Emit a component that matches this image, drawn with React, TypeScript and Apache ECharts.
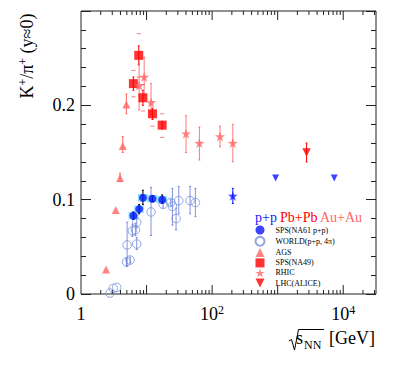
import React, { useEffect, useRef } from 'react';
import * as echarts from 'echarts';

// ---- data ----
const NA61_X = [6.3, 7.7, 8.8, 12.3, 17.3];
const NA61_Y = [0.083, 0.090, 0.102, 0.101, 0.100];
const NA61_LO = [0.079, 0.085, 0.095, 0.098, 0.096];
const NA61_HI = [0.087, 0.095, 0.110, 0.104, 0.105];

const WORLD_X = [2.77, 3.11, 3.51, 4.95, 5.6, 5.05, 6.08, 6.76, 7.08, 7.08, 11.7, 17.9, 23.4, 24.8, 28.2, 31.0, 46.1, 55.6];
const WORLD_Y = [0.001, 0.006, 0.007, 0.034, 0.036, 0.052, 0.067, 0.068, 0.076, 0.053, 0.087, 0.095, 0.097, 0.093, 0.080, 0.099, 0.099, 0.097];
const WORLD_LO = [0.001, 0.006, 0.007, 0.030, 0.033, 0.029, 0.061, 0.062, 0.070, 0.047, 0.062, 0.092, 0.094, 0.073, 0.068, 0.085, 0.085, 0.082];
const WORLD_HI = [0.001, 0.006, 0.007, 0.038, 0.039, 0.076, 0.074, 0.075, 0.083, 0.060, 0.113, 0.098, 0.100, 0.112, 0.091, 0.114, 0.114, 0.112];

const AGS_X = [2.41, 3.39, 3.94, 4.33, 4.92];
const AGS_Y = [0.026, 0.089, 0.123, 0.157, 0.201];
const AGS_LO = [0.026, 0.089, 0.119, 0.150, 0.191];
const AGS_HI = [0.026, 0.089, 0.128, 0.167, 0.212];

const NA49_X = [6.3, 7.6, 8.8, 12.3, 17.3];
const NA49_Y = [0.223, 0.253, 0.208, 0.191, 0.179];
const NA49_LO = [0.216, 0.243, 0.200, 0.185, 0.175];
const NA49_HI = [0.230, 0.263, 0.216, 0.197, 0.183];
const NA49_SYS_LO = [0.209, 0.230, 0.194, 0.178, 0.166];
const NA49_SYS_HI = [0.237, 0.276, 0.222, 0.204, 0.191];

const RHIC_X = [7.7, 9.2, 11.7, 40, 64, 132, 207];
const RHIC_Y = [0.221, 0.230, 0.203, 0.170, 0.160, 0.167, 0.160];
const RHIC_LO = [0.195, 0.211, 0.191, 0.150, 0.142, 0.156, 0.140];
const RHIC_HI = [0.250, 0.251, 0.223, 0.189, 0.177, 0.178, 0.180];

const LHC_X = [2760];
const LHC_Y = [0.150];
const LHC_LO = [0.140];
const LHC_HI = [0.160];

const PP200_X = [207];
const PP200_Y = [0.104];
const PP200_LO = [0.096];
const PP200_HI = [0.112];

const PPLHC_X = [930, 7300];
const PPLHC_Y = [0.123, 0.123];

const X_MAJOR_TICKS = [10, 100, 1000, 10000];
const X_MINOR_TICKS = [2, 3, 4, 5, 6, 7, 8, 9, 20, 30, 40, 50, 60, 70, 80, 90, 200, 300, 400, 500, 600, 700, 800, 900,
  2000, 3000, 4000, 5000, 6000, 7000, 8000, 9000, 20000, 30000];

const LEGEND_NAMES = ['SPS(NA61 p+p)', 'WORLD(p+p, 4\u03c0)', 'AGS', 'SPS(NA49)', 'RHIC', 'LHC(ALICE)'];

// ---- styles ----
const FONT = 'Liberation Serif';
const BLUE = '#0a14ff';
const LBLUE = '#7290dc';
const RED = '#ff0000';
const LRED = '#ff6666';
const FRAME = '#222222';
const STAR = 'path://M50,0 L61.8,35.1 L98.9,35.4 L69.1,57.5 L80.4,92.9 L50,71.4 L19.6,92.9 L30.9,57.5 L1.1,35.4 L38.2,35.1 Z';
const DOWN_TRI = 'path://M0,0 L10,0 L5,10 Z';
const LEGEND_ICONS = ['circle', 'circle', 'triangle', 'rect', STAR, DOWN_TRI];

const pts = (xs: number[], ys: number[]) => xs.map((x, i) => [x, ys[i]]);
const bars = (xs: number[], lo: number[], hi: number[]) => xs.map((x, i) => [x, lo[i], hi[i]]);

function errSeries(data: number[][], color: string, cap: number, width = 1) {
  return {
    type: 'custom',
    silent: true,
    z: 2,
    data,
    encode: { x: 0, y: [1, 2] },
    renderItem: (_p: any, api: any) => {
      const x = api.value(0);
      const a = api.coord([x, api.value(1)]);
      const b = api.coord([x, api.value(2)]);
      if (Math.abs(a[1] - b[1]) < 0.5) return { type: 'group', children: [] };
      const st = { stroke: color, lineWidth: width };
      return {
        type: 'group',
        children: [
          { type: 'line', shape: { x1: a[0], y1: a[1], x2: b[0], y2: b[1] }, style: st },
          { type: 'line', shape: { x1: a[0] - cap, y1: a[1], x2: a[0] + cap, y2: a[1] }, style: st },
          { type: 'line', shape: { x1: b[0] - cap, y1: b[1], x2: b[0] + cap, y2: b[1] }, style: st },
        ],
      };
    },
  };
}

function sysMarks(data: number[][], color: string) {
  return {
    type: 'custom',
    silent: true,
    z: 2,
    data,
    encode: { x: 0, y: [1, 2] },
    renderItem: (_p: any, api: any) => {
      const x = api.value(0);
      const a = api.coord([x, api.value(1)]);
      const b = api.coord([x, api.value(2)]);
      const st = { stroke: color, lineWidth: 1 };
      return {
        type: 'group',
        children: [
          { type: 'line', shape: { x1: a[0] - 2, y1: a[1], x2: a[0] + 2, y2: a[1] }, style: st },
          { type: 'line', shape: { x1: b[0] - 2, y1: b[1], x2: b[0] + 2, y2: b[1] }, style: st },
        ],
      };
    },
  };
}

function sysBoxes(data: number[][], color: string) {
  return {
    type: 'custom',
    silent: true,
    z: 1,
    data,
    encode: { x: 0, y: [1, 2] },
    renderItem: (_p: any, api: any) => {
      const x = api.value(0);
      const y = api.value(1);
      const a = api.coord([x, y - 0.004]);
      const b = api.coord([x, y + 0.004]);
      return { type: 'rect', shape: { x: a[0] - 5, y: b[1], width: 10, height: a[1] - b[1] }, style: { fill: color } };
    },
  };
}

function tickSeries() {
  const data = [...X_MAJOR_TICKS.map((v) => [v, 0, 9]), ...X_MINOR_TICKS.map((v) => [v, 0, 4])];
  return {
    type: 'custom',
    silent: true,
    z: 5,
    data,
    encode: { x: 0, y: 1 },
    renderItem: (_p: any, api: any) => {
      const v = api.value(0);
      const len = api.value(2);
      const b = api.coord([v, 0]);
      const t = api.coord([v, 0.3]);
      const st = { stroke: FRAME, lineWidth: 1 };
      return {
        type: 'group',
        children: [
          { type: 'line', shape: { x1: b[0], y1: b[1], x2: b[0], y2: b[1] - len }, style: st },
          { type: 'line', shape: { x1: t[0], y1: t[1], x2: t[0], y2: t[1] + len }, style: st },
        ],
      };
    },
  };
}

const yAxisBase = (pos: string, labels: boolean) => ({
  type: 'value',
  position: pos,
  min: 0,
  max: 0.3,
  interval: 0.1,
  axisLine: { show: false },
  splitLine: { show: false },
  minorSplitLine: { show: false },
  axisTick: { show: true, inside: true, length: 10, lineStyle: { color: FRAME, width: 1 } },
  minorTick: { show: true, splitNumber: 5, length: 5, lineStyle: { color: FRAME, width: 1 } },
  axisLabel: {
    show: labels,
    fontFamily: FONT,
    fontSize: 18,
    color: '#000',
    margin: 6,
    formatter: (v: number) => (v > 0.25 ? '' : String(Math.round(v * 10) / 10)),
  },
});

const option: any = {
  animation: false,
  backgroundColor: '#ffffff',
  grid: {
    left: 81, right: 31, top: 11, bottom: 74,
    show: true, borderColor: FRAME, borderWidth: 1, backgroundColor: 'transparent',
    containLabel: false, outerBoundsMode: 'none',
  },
  xAxis: {
    type: 'log',
    logBase: 10,
    min: 1,
    max: 31623,
    position: 'bottom',
    axisLine: { show: false },
    axisTick: { show: false },
    splitLine: { show: false },
    minorTick: { show: false },
    axisLabel: {
      fontFamily: FONT,
      fontSize: 18,
      color: '#000',
      margin: 10,
      lineHeight: 20,
      formatter: (v: number) => {
        const l = Math.log10(v);
        const e = Math.round(l);
        if (Math.abs(l - e) > 1e-6) return '';
        if (e === 0) return '1';
        if (e % 2 !== 0) return '';
        return '10{sup|' + e + '}';
      },
      rich: { sup: { fontFamily: FONT, fontSize: 12, verticalAlign: 'top', lineHeight: 8, color: '#000' } },
    },
  },
  yAxis: [yAxisBase('left', true), yAxisBase('right', false)],
  legend: {
    orient: 'vertical',
    left: 254.5,
    top: 225.5,
    itemWidth: 9,
    itemHeight: 9,
    itemGap: 1.3,
    padding: 0,
    data: LEGEND_NAMES.map((n, i) => ({ name: n, icon: LEGEND_ICONS[i] })),
    textStyle: { fontFamily: FONT, fontSize: 8, color: '#000', lineHeight: 8, padding: [0, 0, 0, 6] },
    selectedMode: false,
  },
  graphic: [
    {
      type: 'text',
      x: 27,
      y: 56,
      rotation: Math.PI / 2,
      style: {
        text: '{a|K}{s|+}{a|/\u03c0}{s|+}{a| (y\u22480)}',
        align: 'center',
        verticalAlign: 'middle',
        rich: {
          a: { fontFamily: FONT, fontSize: 18, lineHeight: 20, fill: '#000' },
          s: { fontFamily: FONT, fontSize: 12, lineHeight: 8, verticalAlign: 'top', fill: '#000' },
        },
      },
    },
    { type: 'polyline', shape: { points: [[289, 341], [291.5, 339.5], [294.5, 350], [298.5, 329.5], [324, 329.5]] }, style: { stroke: '#000', lineWidth: 1, fill: null } },
    { type: 'text', x: 296, y: 338, style: { text: 's', fontFamily: FONT, fontSize: 18, fill: '#000', align: 'left', verticalAlign: 'middle' } },
    { type: 'text', x: 304, y: 345, style: { text: 'NN', fontFamily: FONT, fontSize: 12, fill: '#000', align: 'left', verticalAlign: 'middle' } },
    { type: 'text', x: 329, y: 338, style: { text: '[GeV]', fontFamily: FONT, fontSize: 18, fill: '#000', align: 'left', verticalAlign: 'middle' } },
    { type: 'text', x: 255, y: 217, style: { text: 'p+p', fontFamily: FONT, fontSize: 14, fill: '#1a1aff', align: 'left', verticalAlign: 'middle' } },
    { type: 'text', x: 280, y: 217, style: { text: 'Pb+Pb', fontFamily: FONT, fontSize: 14, fill: RED, align: 'left', verticalAlign: 'middle' } },
    { type: 'text', x: 320, y: 217, style: { text: 'Au+Au', fontFamily: FONT, fontSize: 14, fill: LRED, align: 'left', verticalAlign: 'middle' } },
  ],
  series: [
    tickSeries(),
    sysBoxes(bars(NA61_X, NA61_Y, NA61_Y), 'rgba(110,225,255,0.75)'),
    errSeries(bars(WORLD_X, WORLD_LO, WORLD_HI), 'rgba(80,100,205,0.7)', 1),
    errSeries(bars(AGS_X, AGS_LO, AGS_HI), LRED, 1),
    errSeries(bars(NA49_X, NA49_LO, NA49_HI), RED, 1),
    sysMarks(bars(NA49_X, NA49_SYS_LO, NA49_SYS_HI), '#ff7777'),
    errSeries(bars(RHIC_X, RHIC_LO, RHIC_HI), 'rgba(255,90,90,0.8)', 1),
    errSeries(bars(LHC_X, LHC_LO, LHC_HI), RED, 1),
    errSeries(bars(PP200_X, PP200_LO, PP200_HI), BLUE, 1),
    errSeries(bars(NA61_X, NA61_LO, NA61_HI), '#000000', 1),
    {
      name: 'WORLD(p+p, 4\u03c0)', type: 'scatter', z: 3, symbol: 'circle', symbolSize: 8.5,
      itemStyle: { color: 'rgba(255,255,255,0)', borderColor: LBLUE, borderWidth: 1 },
      data: pts(WORLD_X, WORLD_Y),
    },
    {
      name: 'SPS(NA61 p+p)', type: 'scatter', z: 4, symbol: 'circle', symbolSize: 8,
      itemStyle: { color: BLUE }, data: pts(NA61_X, NA61_Y),
    },
    {
      name: 'AGS', type: 'scatter', z: 4, symbol: 'triangle', symbolSize: 8,
      itemStyle: { color: LRED }, data: pts(AGS_X, AGS_Y),
    },
    {
      name: 'SPS(NA49)', type: 'scatter', z: 4, symbol: 'rect', symbolSize: 9,
      itemStyle: { color: RED }, data: pts(NA49_X, NA49_Y),
    },
    {
      name: 'RHIC', type: 'scatter', z: 4, symbol: STAR, symbolSize: 10,
      itemStyle: { color: LRED }, data: pts(RHIC_X, RHIC_Y),
    },
    {
      name: 'LHC(ALICE)', type: 'scatter', z: 4, symbol: 'triangle', symbolRotate: 180, symbolSize: 8.5,
      itemStyle: { color: RED }, data: pts(LHC_X, LHC_Y),
    },
    {
      name: 'pp200', type: 'scatter', z: 4, symbol: STAR, symbolSize: 9.5,
      itemStyle: { color: BLUE }, data: pts(PP200_X, PP200_Y),
    },
    {
      name: 'ppLHC', type: 'scatter', z: 4, symbol: 'triangle', symbolRotate: 180, symbolSize: 7,
      itemStyle: { color: BLUE }, data: pts(PPLHC_X, PPLHC_Y),
    },
  ],
};

export default function App() {
  const ref = useRef<HTMLDivElement>(null);
  useEffect(() => {
    const chart = echarts.init(ref.current as HTMLDivElement, null, { renderer: 'svg' });
    chart.setOption(option);
    return () => chart.dispose();
  }, []);
  return <div ref={ref} style={{ position: 'fixed', left: 0, top: 0, width: 407, height: 368, background: '#fff' }} />;
}
